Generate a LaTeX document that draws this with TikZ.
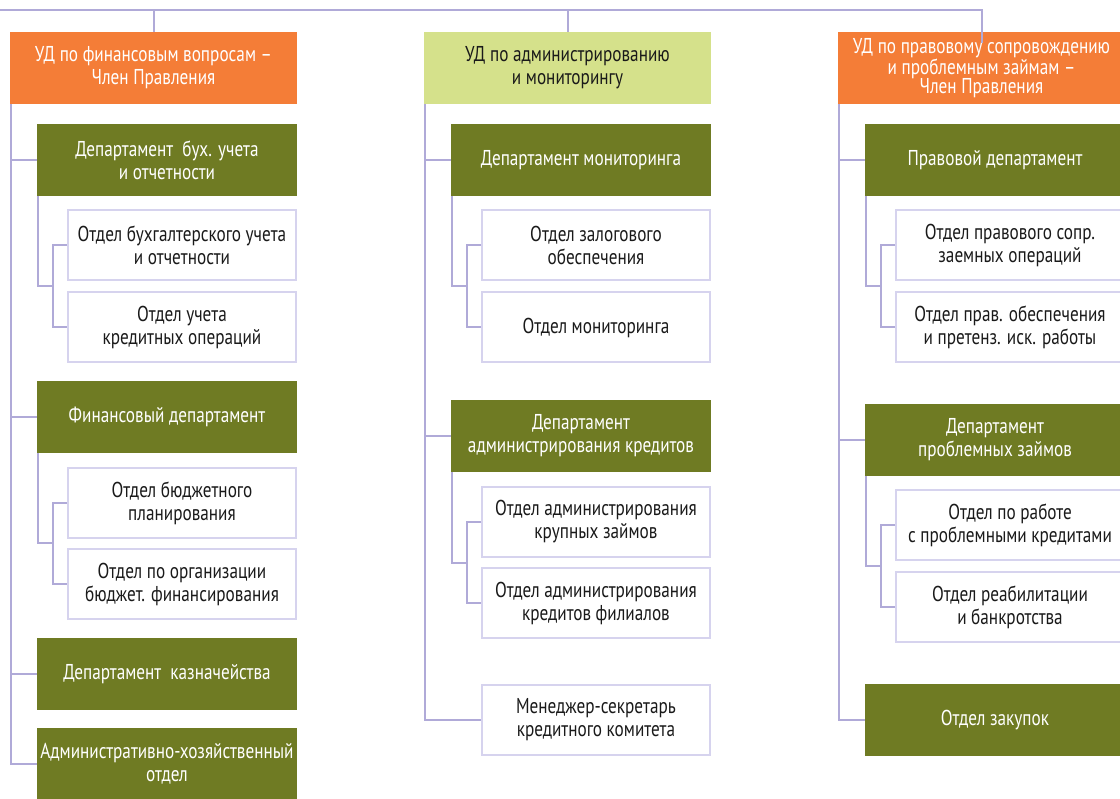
\documentclass[tikz,border=0pt]{standalone}
\usepackage{fontspec}
\setmainfont[FakeStretch=0.80]{PT Sans}
\usetikzlibrary{calc}
\definecolor{orangeC}{HTML}{F47D37}
\definecolor{oliveC}{HTML}{6F7B23}
\definecolor{lightC}{HTML}{D5E18B}
\definecolor{lineC}{HTML}{B0AAD8}
\definecolor{borderC}{HTML}{D6D3EE}
\definecolor{textC}{HTML}{1A1A1A}
\begin{document}
\begin{tikzpicture}[x=1pt,y=-1pt,
  box/.style={rectangle, inner sep=0pt, align=center, minimum height=72pt,
    font=\fontsize{21.5}{23}\selectfont},
  headbox/.style={box, minimum width=287pt, fill=orangeC, text=white},
  headlight/.style={box, minimum width=287pt, fill=lightC, text=textC},
  deptbox/.style={box, minimum width=260pt, fill=oliveC, text=white},
  subbox/.style={box, minimum width=228pt, minimum height=70pt, fill=white,
    draw=borderC, line width=2pt, text=textC},
  conn/.style={draw=lineC, line width=2pt},
]
\useasboundingbox (0,0) rectangle (1120,799);
\clip (0,0) rectangle (1120,799);
\fill[white] (0,0) rectangle (1120,799);

% ---------- left column ----------
\node[headbox] (u1) at (153.5,68) {УД по финансовым вопросам –\\Член Правления};
\node[deptbox] (d11) at (167,160) {Департамент\ \ бух. учета\\и отчетности};
\node[subbox] (s111) at (182,245.5) {Отдел бухгалтерского учета\\и отчетности};
\node[subbox] (s112) at (182,327.5) {Отдел учета\\кредитных операций};
\node[deptbox] (d12) at (167,417) {Финансовый департамент};
\node[subbox] (s121) at (182,503) {Отдел бюджетного\\планирования};
\node[subbox] (s122) at (182,584) {Отдел по организации\\бюджет. финансирования};
\node[deptbox] (d13) at (167,674) {Департамент\ \ казначейства};
\node[deptbox] (d14) at (167,764) {Административно-хозяйственный\\отдел};

% ---------- middle column ----------
\node[headlight] (u2) at (567.5,68) {УД по администрированию\\и мониторингу};
\node[deptbox] (d21) at (581,160) {Департамент мониторинга};
\node[subbox] (s211) at (596,245.5) {Отдел залогового\\обеспечения};
\node[subbox] (s212) at (596,327.5) {Отдел мониторинга};
\node[deptbox] (d22) at (581,436) {Департамент\\администрирования кредитов};
\node[subbox] (s221) at (596,522) {Отдел администрирования\\крупных займов};
\node[subbox] (s222) at (596,603) {Отдел администрирования\\кредитов филиалов};
\node[subbox] (m23) at (596,720) {Менеджер-секретарь\\кредитного комитета};

% ---------- right column ----------
\node[headbox, font=\fontsize{21.5}{19.5}\selectfont] (u3) at (981.5,68) {УД по правовому сопровождению\\и проблемным займам –\\Член Правления};
\node[deptbox] (d31) at (995,160) {Правовой департамент};
\node[subbox] (s311) at (1010,245.5) {Отдел правового сопр.\\заемных операций};
\node[subbox] (s312) at (1010,327.5) {Отдел прав. обеспечения\\и претенз. иск. работы};
\node[deptbox] (d32) at (995,440) {Департамент\\проблемных займов};
\node[subbox] (s321) at (1010,525) {Отдел по работе\\с проблемными кредитами};
\node[subbox] (s322) at (1010,607) {Отдел реабилитации\\и банкротства};
\node[deptbox] (d33) at (995,720) {Отдел закупок};

% ---------- top connectors ----------
\coordinate (top) at (0,10);
\draw[conn] (top) -| ([yshift=-11pt]u3.north);
\draw[conn] (u1.north) -- (u1.north |- top);
\draw[conn] (u2.north) -- (u2.north |- top);

% ---------- spines ----------
\foreach \h/\d in {u1/d11,u1/d12,u1/d13,u1/d14,u2/d21,u2/d22,u2/m23,u3/d31,u3/d32,u3/d33}{
  \draw[conn] ([xshift=1pt]\h.south west) |- (\d.west);
}

% ---------- brackets ----------
\foreach \d/\a/\b in {d11/s111/s112,d12/s121/s122,d21/s211/s212,d22/s221/s222,d31/s311/s312,d32/s321/s322}{
  \coordinate (k\d) at ($(\a.south west)!0.5!(\b.north west)+(-14,0)$);
  \draw[conn] ([xshift=1pt]\d.south west) |- (k\d);
  \draw[conn] (\a.west) -| (k\d) |- (\b.west);
}
\end{tikzpicture}
\end{document}
